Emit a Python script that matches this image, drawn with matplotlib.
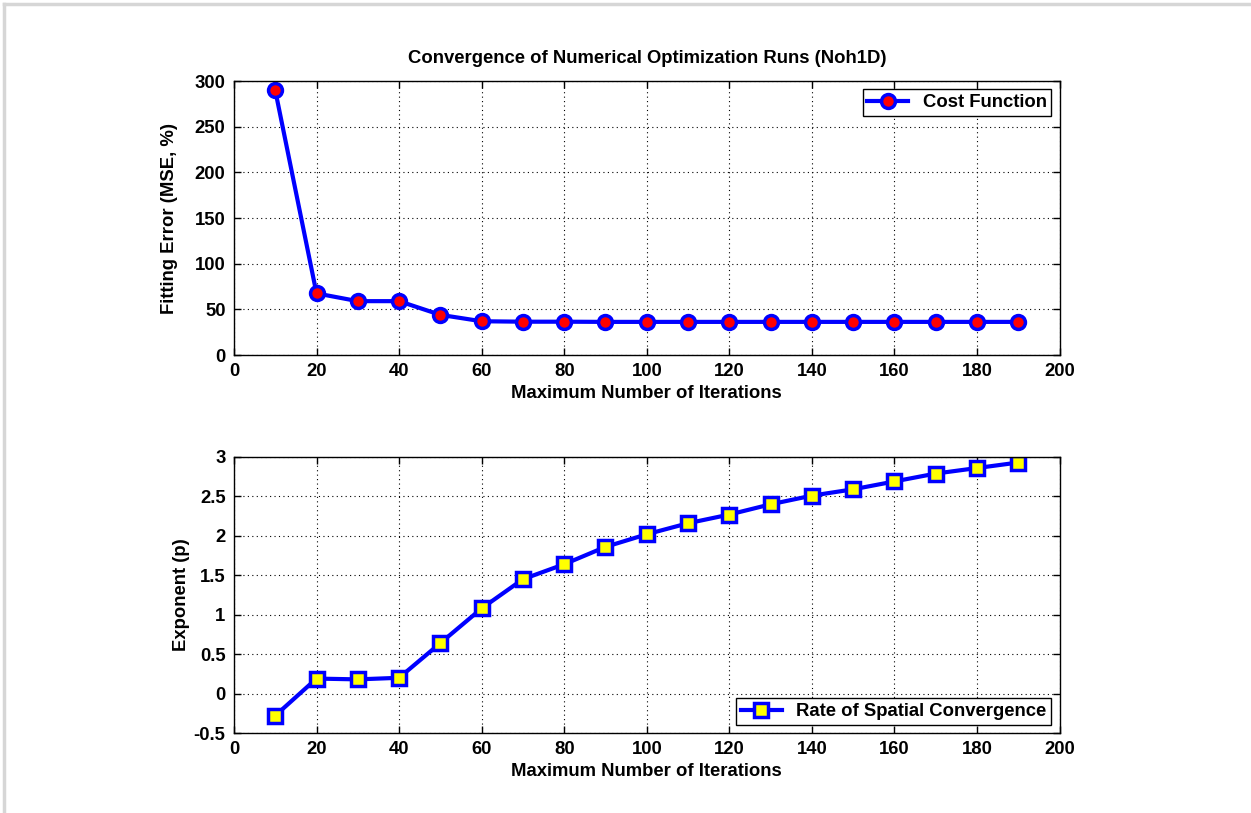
import numpy as np
import matplotlib.pyplot as plt
from matplotlib.lines import Line2D

iterations = [10, 20, 30, 40, 50, 60, 70, 80, 90, 100, 110, 120, 130, 140, 150, 160, 170, 180, 190]
cost_function = [290, 67.5, 59, 59, 44, 37, 36.5, 36.5, 36.3, 36.3, 36.3, 36.3, 36.3, 36.3, 36.3, 36.3, 36.3, 36.3, 36.3]
exponent_p = [-0.28, 0.19, 0.18, 0.20, 0.64, 1.08, 1.45, 1.64, 1.86, 2.02,
              2.16, 2.27, 2.40, 2.51, 2.59, 2.69, 2.79, 2.86, 2.93]

FS = 13.3

plt.rcParams['font.family'] = ['Liberation Sans', 'DejaVu Sans']
plt.rcParams['font.weight'] = 'bold'
plt.rcParams['font.size'] = FS

fig = plt.figure(figsize=(12.51, 8.13), dpi=100)

# light frame on top/left edge like the screenshot
fig.add_artist(Line2D([0.0035, 0.0035], [0, 0.995], transform=fig.transFigure, color='#d6d6d6', lw=2.5))
fig.add_artist(Line2D([0.0035, 1.0], [0.995, 0.995], transform=fig.transFigure, color='#d6d6d6', lw=2.5))

ax1 = fig.add_axes([0.187, 0.5633, 0.660, 0.337])
ax2 = fig.add_axes([0.187, 0.0984, 0.660, 0.3395])


def style_axis(ax):
    ax.tick_params(direction='in', top=True, right=True, length=5, width=1,
                   labelsize=FS, pad=6)
    ax.grid(True, linestyle=(0, (1, 3)), color='black', linewidth=0.8)
    for s in ax.spines.values():
        s.set_linewidth(1)
    for lbl in ax.get_xticklabels() + ax.get_yticklabels():
        lbl.set_fontweight('bold')


ax1.plot(iterations, cost_function, '-o', color='blue', lw=3, markersize=10,
         markerfacecolor='red', markeredgecolor='blue', markeredgewidth=2.5,
         label='Cost Function')
ax1.set_xlim(0, 200)
ax1.set_ylim(0, 300)
ax1.set_xticks(np.arange(0, 201, 20))
ax1.set_yticks(np.arange(0, 301, 50))
ax1.set_xlabel('Maximum Number of Iterations', fontsize=FS, fontweight='bold', labelpad=3)
ax1.set_ylabel('Fitting Error (MSE, %)', fontsize=FS, fontweight='bold', labelpad=12)
ax1.set_title('Convergence of Numerical Optimization Runs (Noh1D)', fontsize=FS, fontweight='bold', pad=13)
style_axis(ax1)
leg1 = ax1.legend(loc='upper right', fancybox=False, edgecolor='black', framealpha=1,
                  fontsize=FS, handlelength=2.2, borderpad=0.25, borderaxespad=0.45)
leg1.get_frame().set_linewidth(1)

ax2.plot(iterations, exponent_p, '-s', color='blue', lw=3, markersize=9.5,
         markerfacecolor='yellow', markeredgecolor='blue', markeredgewidth=2.5,
         label='Rate of Spatial Convergence')
ax2.set_xlim(0, 200)
ax2.set_ylim(-0.5, 3)
ax2.set_xticks(np.arange(0, 201, 20))
ax2.set_yticks(np.arange(-0.5, 3.01, 0.5))
ax2.set_yticklabels(['-0.5', '0', '0.5', '1', '1.5', '2', '2.5', '3'])
ax2.set_xlabel('Maximum Number of Iterations', fontsize=FS, fontweight='bold', labelpad=3)
ax2.set_ylabel('Exponent (p)', fontsize=FS, fontweight='bold', labelpad=3)
style_axis(ax2)
leg2 = ax2.legend(loc='lower right', fancybox=False, edgecolor='black', framealpha=1,
                  fontsize=FS, handlelength=2.2, borderpad=0.25, borderaxespad=0.45)
leg2.get_frame().set_linewidth(1)

fig.savefig('out.png', dpi=100)
